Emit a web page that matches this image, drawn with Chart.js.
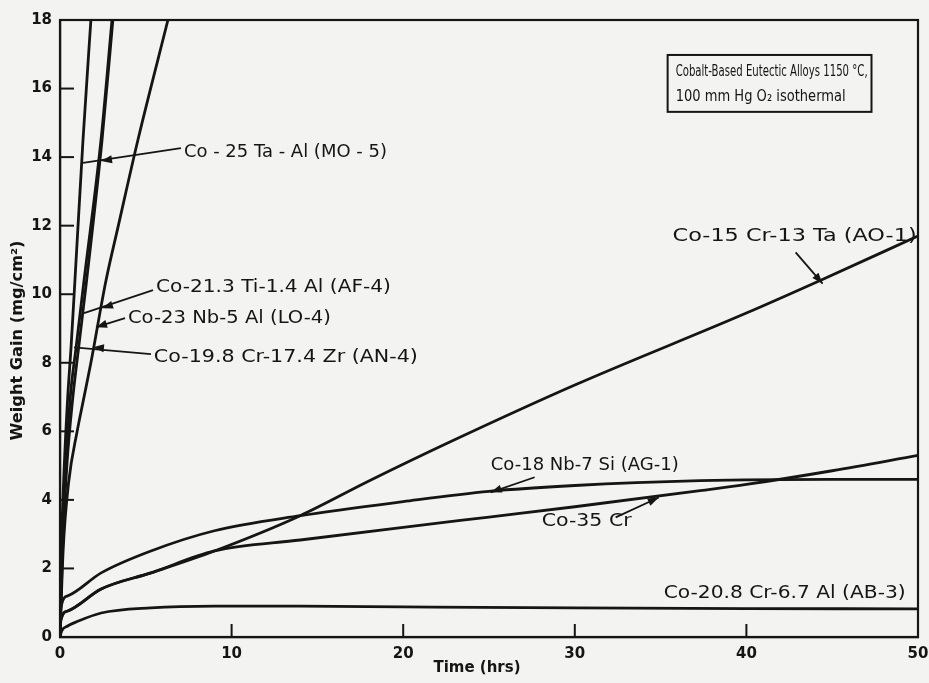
<!DOCTYPE html>
<html>
<head>
<meta charset="utf-8">
<script src="https://cdn.jsdelivr.net/npm/chart.js@4.4.1/dist/chart.umd.min.js"></script>
<style>
html,body{margin:0;padding:0;background:#f3f3f1;}
#wrap{width:929px;height:683px;position:relative;}
</style>
</head>
<body>
<div id="wrap"><canvas id="c" width="929" height="683"></canvas></div>
<script>
// ---- data (time in hrs, weight gain in mg/cm^2) ----
const xTicks = [0, 10, 20, 30, 40, 50];
const yTicks = [0, 2, 4, 6, 8, 10, 12, 14, 16, 18];

const mo5Time = [0, 0.08, 0.25, 0.45, 0.65, 0.87, 1.34, 1.8];
const mo5Gain = [0, 2.5, 5, 7, 8.5, 10.4, 14.5, 18];

const af4Time = [0, 0.12, 0.35, 0.6, 0.95, 1.4, 2.39, 3.03];
const af4Gain = [0, 2.5, 5, 7, 8.5, 10.4, 14.5, 18];

const an4Time = [0, 0.14, 0.4, 0.75, 1.1, 1.55, 2.45, 3.08];
const an4Gain = [0, 2.5, 5, 7, 8.5, 10.4, 14.5, 18];

const lo4Time = [0, 0.18, 0.5, 1.0, 1.4, 1.8, 2.68, 3.4, 4.54, 6.29];
const lo4Gain = [0, 2.5, 4.5, 6, 7, 8, 10.4, 12, 14.5, 18];

const ao1Time = [0, 0.05, 0.45, 2.4, 5.3, 9, 14, 18, 22.9, 30, 40, 44.3, 50];
const ao1Gain = [0, 0.5, 0.76, 1.4, 1.87, 2.51, 3.54, 4.55, 5.73, 7.35, 9.45, 10.4, 11.7];

const ag1Time = [0, 0.05, 0.45, 2.4, 5.3, 9, 14, 20, 25, 30, 37.3, 45, 50];
const ag1Gain = [0, 0.85, 1.2, 1.87, 2.51, 3.1, 3.54, 3.95, 4.25, 4.42, 4.56, 4.6, 4.6];

const cr35Time = [0, 0.05, 0.45, 2.4, 5.3, 9, 14, 20, 25, 30, 37.3, 40, 45, 50];
const cr35Gain = [0, 0.5, 0.76, 1.4, 1.87, 2.51, 2.83, 3.2, 3.5, 3.8, 4.27, 4.45, 4.85, 5.3];

const ab3Time = [0, 0.1, 0.45, 1, 2.4, 5.3, 9, 14, 20, 30, 40, 50];
const ab3Gain = [0, 0.18, 0.32, 0.45, 0.7, 0.85, 0.9, 0.9, 0.88, 0.85, 0.83, 0.82];

const seriesNames = ['Co-25Ta-Al (MO-5)', 'Co-21.3 Ti-1.4 Al (AF-4)', 'Co-19.8 Cr-17.4 Zr (AN-4)',
  'Co-23 Nb-5Al (LO-4)', 'Co-15 Cr-13 Ta (AO-1)', 'Co-18 Nb-7 Si (AG-1)', 'Co-35 Cr', 'Co-20.8 Cr-6.7 Al (AB-3)'];
const seriesTimes = [mo5Time, af4Time, an4Time, lo4Time, ao1Time, ag1Time, cr35Time, ab3Time];
const seriesGains = [mo5Gain, af4Gain, an4Gain, lo4Gain, ao1Gain, ag1Gain, cr35Gain, ab3Gain];

// ---- curve labels (positions in data units) ----
const curveLabels = [
  {text: 'Co - 25 Ta - Al (MO - 5)', at: [7.22, 14.12], w: 203, from: [7.05, 14.26], to: [1.34, 13.83], head: [2.39, 13.89]},
  {text: 'Co-21.3 Ti-1.4 Al (AF-4)', at: [5.59, 10.18], w: 235, from: [5.42, 10.12], to: [1.40, 9.45], head: [2.45, 9.59]},
  {text: 'Co-23 Nb-5 Al (LO-4)', at: [3.96, 9.30], w: 203, from: [3.79, 9.30], to: [2.10, 9.04], head: [2.10, 9.04]},
  {text: 'Co-19.8 Cr-17.4 Zr (AN-4)', at: [5.47, 8.16], w: 264, from: [5.30, 8.25], to: [0.82, 8.45], head: [1.92, 8.45]},
  {text: 'Co-15 Cr-13 Ta (AO-1)', at: [35.70, 11.69], w: 244, from: [42.87, 11.22], to: [44.44, 10.31], head: [44.44, 10.31]},
  {text: 'Co-18 Nb-7 Si (AG-1)', at: [25.10, 5.0], w: 188, from: [27.66, 4.66], to: [25.10, 4.22], head: [25.10, 4.22]},
  {text: 'Co-35 Cr', at: [28.07, 3.37], w: 90, from: [32.38, 3.49], to: [34.89, 4.07], head: [34.89, 4.07]},
  {text: 'Co-20.8 Cr-6.7 Al (AB-3)', at: [35.18, 1.27], w: 242}
];
const boxLines = ['Cobalt-Based Eutectic Alloys 1150 °C,', '100 mm Hg O₂ isothermal'];
const boxArea = {x0: 35.41, y0: 16.98, x1: 47.29, y1: 15.32};
const xTitle = {text: 'Time (hrs)', center: 24.3};
const yTitle = 'Weight Gain (mg/cm²)';

const INK = '#151515';
const FONT = '"DejaVu Sans", "Liberation Sans", sans-serif';

function buildDatasets() {
  return seriesNames.map((name, i) => ({
    label: name,
    data: seriesTimes[i].map((t, k) => ({x: t, y: seriesGains[i][k]})),
    borderColor: INK,
    borderWidth: 2.8,
    pointRadius: 0,
    fill: false,
    cubicInterpolationMode: 'monotone'
  }));
}

function fitText(ctx, text, x, y, w) {
  const m = ctx.measureText(text).width;
  ctx.save();
  ctx.translate(x, y);
  ctx.scale(w / m, 1);
  ctx.fillText(text, 0, 0);
  ctx.restore();
}

function arrowHead(ctx, fx, fy, tx, ty, hx, hy) {
  const a = Math.atan2(ty - fy, tx - fx);
  const L = 11, W = 4;
  ctx.beginPath();
  ctx.moveTo(hx, hy);
  ctx.lineTo(hx - L * Math.cos(a) + W * Math.sin(a), hy - L * Math.sin(a) - W * Math.cos(a));
  ctx.lineTo(hx - L * Math.cos(a) - W * Math.sin(a), hy - L * Math.sin(a) + W * Math.cos(a));
  ctx.closePath();
  ctx.fill();
}

const bgPlugin = {
  id: 'bg',
  beforeDraw(chart) {
    const ctx = chart.ctx;
    ctx.save();
    ctx.fillStyle = '#f3f3f1';
    ctx.fillRect(0, 0, chart.width, chart.height);
    ctx.restore();
  }
};

const decorPlugin = {
  id: 'decor',
  afterDatasetsDraw(chart) {
    const ctx = chart.ctx;
    const xs = chart.scales.x, ys = chart.scales.y;
    const a = chart.chartArea;
    const px = v => xs.getPixelForValue(v), py = v => ys.getPixelForValue(v);
    ctx.save();
    ctx.strokeStyle = INK;
    ctx.fillStyle = INK;
    // frame
    ctx.lineWidth = 2.2;
    ctx.strokeRect(a.left, a.top, a.right - a.left, a.bottom - a.top);
    // inward ticks
    ctx.lineWidth = 2;
    xTicks.forEach(t => {
      if (t === xs.min || t === xs.max) return;
      ctx.beginPath(); ctx.moveTo(px(t), a.bottom); ctx.lineTo(px(t), a.bottom - 13); ctx.stroke();
    });
    yTicks.forEach(v => {
      if (v === ys.min || v === ys.max) return;
      ctx.beginPath(); ctx.moveTo(a.left, py(v)); ctx.lineTo(a.left + 14, py(v)); ctx.stroke();
    });
    // axis titles
    ctx.font = 'bold 15px ' + FONT;
    ctx.textAlign = 'center';
    ctx.textBaseline = 'middle';
    ctx.fillText(xTitle.text, px(xTitle.center), a.bottom + 31);
    ctx.save();
    ctx.translate(18, (a.top + a.bottom) / 2 + 12);
    ctx.rotate(-Math.PI / 2);
    ctx.font = 'bold 15px ' + FONT;
    const m = ctx.measureText(yTitle).width;
    ctx.scale(200 / m, 1);
    ctx.fillText(yTitle, 0, 0);
    ctx.restore();
    ctx.textAlign = 'left';
    // curve labels
    ctx.font = '17px ' + FONT;
    ctx.lineWidth = 1.8;
    curveLabels.forEach(l => {
      fitText(ctx, l.text, px(l.at[0]), py(l.at[1]), l.w);
      if (l.from) {
        const fx = px(l.from[0]), fy = py(l.from[1]), tx = px(l.to[0]), ty = py(l.to[1]);
        ctx.beginPath(); ctx.moveTo(fx, fy); ctx.lineTo(tx, ty); ctx.stroke();
        arrowHead(ctx, fx, fy, tx, ty, px(l.head[0]), py(l.head[1]));
      }
    });
    // info box
    const bx0 = px(boxArea.x0), by0 = py(boxArea.y0), bx1 = px(boxArea.x1), by1 = py(boxArea.y1);
    ctx.lineWidth = 2;
    ctx.strokeRect(bx0, by0, bx1 - bx0, by1 - by0);
    ctx.font = '15px ' + FONT;
    fitText(ctx, boxLines[0], bx0 + 8, by0 + 17, 192);
    fitText(ctx, boxLines[1], bx0 + 8, by0 + 42, 170);
    ctx.restore();
  }
};

new Chart(document.getElementById('c'), {
  type: 'line',
  data: {datasets: buildDatasets()},
  plugins: [bgPlugin, decorPlugin],
  options: {
    responsive: false,
    animation: false,
    events: [],
    layout: {padding: {top: 20, right: 11, left: 0, bottom: 0}},
    plugins: {legend: {display: false}, tooltip: {enabled: false}},
    scales: {
      x: {
        type: 'linear', min: 0, max: 50,
        afterBuildTicks: s => { s.ticks = xTicks.map(v => ({value: v})); },
        afterFit: s => { s.height = 46; s.paddingLeft = 0; s.paddingRight = 0; },
        grid: {display: false, drawTicks: false},
        border: {display: true, color: INK, width: 2.2},
        ticks: {color: INK, padding: 8, font: {family: FONT, size: 15, weight: 'bold'}, maxRotation: 0},
        title: {display: false}
      },
      y: {
        type: 'linear', min: 0, max: 18,
        afterBuildTicks: s => { s.ticks = yTicks.map(v => ({value: v})); },
        afterFit: s => { s.width = 60; s.paddingTop = 0; s.paddingBottom = 0; },
        grid: {display: false, drawTicks: false},
        border: {display: true, color: INK, width: 2.2},
        ticks: {color: INK, padding: 8, font: {family: FONT, size: 15, weight: 'bold'}},
        title: {display: false}
      }
    }
  }
});
</script>
</body>
</html>
